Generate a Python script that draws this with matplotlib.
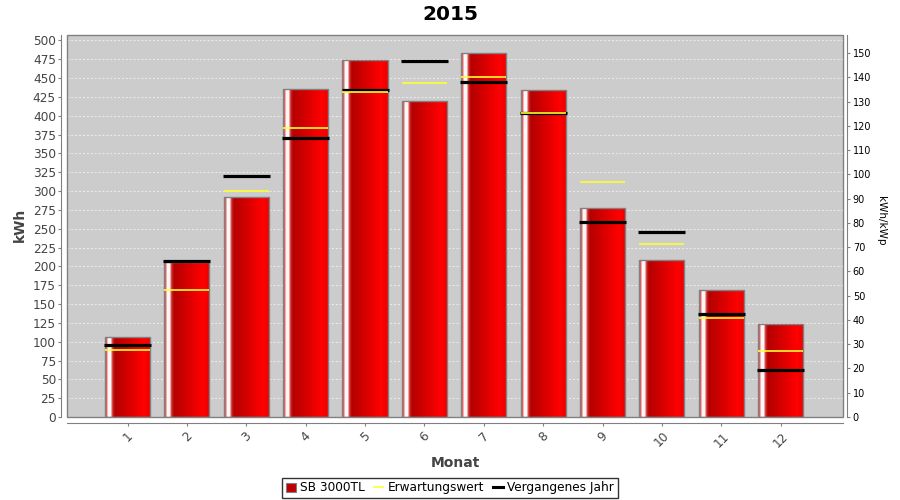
"""
Monthly PV yield chart for 2015 (SB 3000TL), with expectation and last year.
Recreated in matplotlib to look like the JFreeChart export.
"""

import numpy as np
import matplotlib
matplotlib.use("Agg")
import matplotlib.pyplot as plt
from matplotlib.patches import Patch, Rectangle
from matplotlib.lines import Line2D

# --- data (kWh per month) ---
monate     = ["1", "2", "3", "4", "5", "6", "7", "8", "9", "10", "11", "12"]
ertrag     = [106, 206, 292, 436, 474, 419, 483, 434, 277, 209, 169, 123]
erwartung  = [89.5, 168, 300.5, 384, 431, 444, 452, 404, 312, 230, 131, 88]
vorjahr    = [95, 207, 319.5, 371, 434.5, 472, 445, 403, 259, 245, 137, 62]
kwp        = 3.22        # plant size, used for the kWh/kWp axis
left_ticks  = list(range(0, 501, 25))
right_ticks = list(range(0, 151, 10))

# --- figure setup ---
fig = plt.figure(figsize=(9, 5), dpi=100)
ax = fig.add_axes([67 / 900, 1 - 417 / 500, 776 / 900, 382.3 / 500])
ax.set_facecolor("#cccccc")

x = np.arange(len(monate))
bar_w = 0.76

# plain bars first, then paint a horizontal gradient into each one
bars = ax.bar(x, ertrag, width=bar_w, color="#cc0000", zorder=2)

# gradient profile across the bar: white highlight stripe near the left edge
pos = [0.00, 0.03, 0.07, 0.12, 0.17, 0.22, 0.85, 1.00]
r   = [0.72, 0.90, 1.00, 1.00, 0.80, 0.71, 1.00, 0.92]
g   = [0.00, 0.40, 0.97, 0.97, 0.15, 0.00, 0.00, 0.00]
b   = [0.00, 0.40, 0.97, 0.97, 0.15, 0.00, 0.00, 0.00]
t = np.linspace(0, 1, 180)
grad = np.dstack([np.interp(t, pos, r), np.interp(t, pos, g), np.interp(t, pos, b)])

for p in bars:
    x0, w, h = p.get_x(), p.get_width(), p.get_height()
    im = ax.imshow(grad, extent=[x0, x0 + w, 0, h], aspect="auto",
                   interpolation="nearest", zorder=2.5)
    im.set_clip_path(p)

# grey outline on top of the gradient
ax.bar(x, ertrag, width=bar_w, fill=False, edgecolor="#808080", linewidth=1, zorder=3)

# expectation (yellow) and previous year (black) markers
ax.hlines(vorjahr, x - 0.395, x + 0.395, color="black", linewidth=2.3, zorder=4)
ax.hlines(erwartung, x - 0.38, x + 0.38, color="#ffff30", linewidth=1.2, zorder=5)

# --- axes ---
ymax = 507.5
ax.set_xlim(-1.02, 12.05)
ax.set_ylim(0, ymax)
ax.set_yticks(left_ticks)
ax.set_xticks(x, monate)

ax.set_axisbelow(True)
ax.yaxis.grid(True, color="#eeeeee", linestyle=(0, (2, 2)), linewidth=0.7)

for s in ["top", "right"]:
    ax.spines[s].set_visible(False)
for s in ["left", "bottom"]:
    ax.spines[s].set_position(("outward", 4))
    ax.spines[s].set_color("#808080")

ax.tick_params(axis="y", length=2, width=0.8, color="#808080",
               labelcolor="#444444", labelsize=8.7, pad=2)
ax.tick_params(axis="x", length=2, width=0.8, color="#808080",
               labelcolor="#444444", labelsize=8.7, pad=3, labelrotation=45)
for lab in ax.get_xticklabels():
    lab.set_horizontalalignment("center")
    lab.set_verticalalignment("top")

# plot area frame
ax.add_patch(Rectangle((0, 0), 1, 1, transform=ax.transAxes, fill=False,
                       edgecolor="#808080", linewidth=1, zorder=6, clip_on=False))

# right axis in kWh/kWp
ax2 = ax.twinx()
ax2.set_ylim(0, ymax / kwp)
ax2.set_yticks(right_ticks)
for s in ["top", "left", "bottom"]:
    ax2.spines[s].set_visible(False)
ax2.spines["right"].set_position(("outward", 3))
ax2.spines["right"].set_color("#808080")
ax2.tick_params(axis="y", length=2, width=0.8, color="#808080",
                labelcolor="black", labelsize=7, pad=2)

# --- texts ---
fig.text(0.5, 1 - 14 / 500, "2015", ha="center", va="center",
         fontsize=14.5, fontweight="bold")
fig.text(20 / 900, 1 - 225 / 500, "kWh", rotation=90, ha="center", va="center",
         fontsize=10, fontweight="bold", color="#444444")
fig.text(881 / 900, 1 - 221 / 500, "kWh/kWp", rotation=270, ha="center", va="center",
         fontsize=7.5, color="black")
fig.text(455 / 900, 1 - 463 / 500, "Monat", ha="center", va="center",
         fontsize=10, fontweight="bold", color="#444444")

# --- legend ---
handles = [
    Patch(facecolor="#c00000", edgecolor="#808080", linewidth=0.8),
    Line2D([], [], color="#ffff30", linewidth=1.2),
    Line2D([], [], color="black", linewidth=2.2),
]
labels = ["SB 3000TL", "Erwartungswert", "Vergangenes Jahr"]
leg = fig.legend(handles, labels, loc="lower center", bbox_to_anchor=(0.5, 0.004),
                 ncol=3, fontsize=8.7, frameon=True, fancybox=False,
                 edgecolor="black", handlelength=0.8, handleheight=0.8,
                 handletextpad=0.4, columnspacing=0.7, borderpad=0.3,
                 borderaxespad=0)
leg.get_frame().set_linewidth(1)

fig.savefig("out.png", dpi=100)
